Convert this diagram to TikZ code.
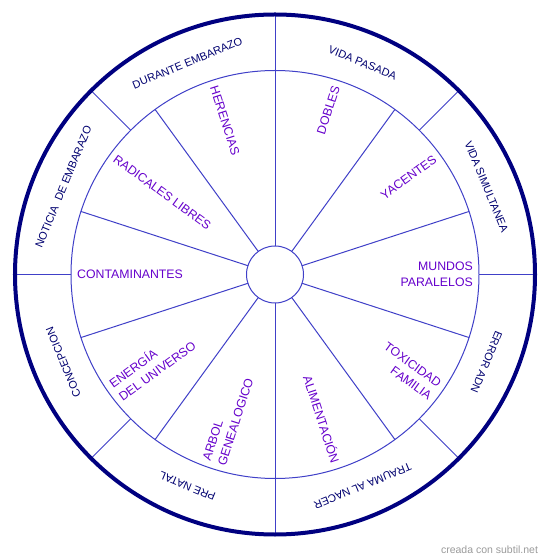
\documentclass[tikz,border=0pt]{standalone}
\usepackage{fontspec}
\setmainfont{Liberation Sans}
\definecolor{wheelline}{RGB}{64,64,200}
\definecolor{innertext}{RGB}{102,0,204}
\definecolor{outertext}{RGB}{0,0,112}
\definecolor{rim}{RGB}{0,0,128}
\definecolor{credit}{RGB}{155,155,155}
\begin{document}
\begin{tikzpicture}[x=1pt,y=1pt,
  spoke/.style={draw=wheelline, line width=1pt},
  ringline/.style={draw=wheelline, line width=1pt},
  rimline/.style={draw=rim, line width=4pt},
  inlabel/.style={text=innertext, font=\fontsize{12.3}{16}\selectfont, inner sep=0pt},
  outlabel/.style={text=outertext, font=\fontsize{11}{13}\selectfont, inner sep=0pt},
]
\useasboundingbox (-275,-284.5) rectangle (275,274.5);
\fill[white] (-275,-284.5) rectangle (275,274.5);
\coordinate (O) at (0,0);
% spokes of the inner ring (10 sectors)
\foreach \a in {90,54,18,-18,-54,-90,-126,-162,162,126}
  \draw[spoke] (\a:28.5) -- (\a:204);
% spokes of the outer ring (8 sectors)
\foreach \a in {0,45,...,315}
  \draw[spoke] (\a:204) -- (\a:260);
\draw[ringline] (O) circle (28.5);
\draw[ringline] (O) circle (204);
\draw[rimline] (O) circle (260);
% inner labels, right half
\node[inlabel, anchor=east, rotate=72] (dobles) at (72:198) {DOBLES};
\node[inlabel, anchor=east, rotate=36] (yacentes) at (36:198) {YACENTES};
\node[inlabel, anchor=east, align=right] (mundos) at (0:198) {MUNDOS\\PARALELOS};
\node[inlabel, anchor=east, rotate=-36, align=right] (toxicidad) at (-36:198) {TOXICIDAD\\FAMILIA};
\node[inlabel, anchor=east, rotate=-72] (alimentacion) at (-72:198) {ALIMENTACIÓN};
% inner labels, left half
\node[inlabel, anchor=west, rotate=72, align=left] (arbol) at (-108:198) {ARBOL\\GENEALOGICO};
\node[inlabel, anchor=west, rotate=36, align=left] (energia) at (-144:198) {ENERGÍA\\DEL UNIVERSO};
\node[inlabel, anchor=west] (contaminantes) at (180:198) {CONTAMINANTES};
\node[inlabel, anchor=west, rotate=-36] (radicales) at (144:198) {RADICALES LIBRES};
\node[inlabel, anchor=west, rotate=-72] (herencias) at (108:198) {HERENCIAS};
% outer labels
\node[outlabel, rotate=-22.5] (vidapasada) at (67.5:229) {VIDA PASADA};
\node[outlabel, rotate=-67.5] (vidasim) at (22.5:229) {VIDA SIMULTANEA};
\node[outlabel, rotate=-112.5] (erroradn) at (-22.5:229) {ERROR ADN};
\node[outlabel, rotate=-157.5] (trauma) at (-67.5:229) {TRAUMA AL NACER};
\node[outlabel, rotate=157.5] (prenatal) at (-112.5:229) {PRE NATAL};
\node[outlabel, rotate=112.5] (concepcion) at (-157.5:229) {CONCEPCION};
\node[outlabel, rotate=67.5] (noticia) at (157.5:229) {NOTICIA~~DE EMBARAZO};
\node[outlabel, rotate=22.5] (durante) at (112.5:229) {DURANTE EMBARAZO};
% credit
\node[text=credit, font=\fontsize{10.5}{12}\selectfont, inner sep=0pt] (creditnote) at (214.5,-275.5) {creada con subtil.net};
\end{tikzpicture}
\end{document}
